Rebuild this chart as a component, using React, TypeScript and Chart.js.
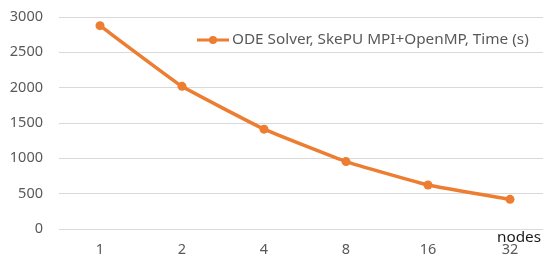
import React, { useEffect, useRef } from "react";
import { Chart, registerables } from "chart.js";

Chart.register(...registerables);

const categories = ["1", "2", "4", "8", "16", "32"];
const timeValues = [2877, 2019, 1413, 954, 623, 420];
const seriesLabel = "ODE Solver, SkePU MPI+OpenMP, Time (s)";
const xAxisTitle = "nodes";
const yMin = 0;
const yMax = 3000;
const yStep = 500;

const ORANGE = "#ED7D31";
const FONT = "'Noto Sans', sans-serif";

const overlayPlugin = {
  id: "overlay",
  afterDraw(chart: any) {
    const ctx = chart.ctx;
    const ds = chart.data.datasets[0];
    ctx.save();
    const ly = 40;
    const lx = 197;
    ctx.strokeStyle = ds.borderColor;
    ctx.lineWidth = 3;
    ctx.beginPath();
    ctx.moveTo(lx, ly);
    ctx.lineTo(lx + 32, ly);
    ctx.stroke();
    ctx.fillStyle = ds.borderColor;
    ctx.beginPath();
    ctx.arc(lx + 16, ly, 4, 0, Math.PI * 2);
    ctx.fill();
    ctx.font = `15.3px ${FONT}`;
    ctx.fillStyle = "#595959";
    ctx.textAlign = "left";
    ctx.textBaseline = "middle";
    ctx.fillText(ds.label, lx + 35, ly);
    ctx.fillStyle = "#1a1a1a";
    ctx.textAlign = "right";
    ctx.fillText(xAxisTitle, 541, 238);
    ctx.restore();
  },
};

export default function App() {
  const ref = useRef<HTMLCanvasElement | null>(null);
  useEffect(() => {
    if (!ref.current) return;
    const chart = new Chart(ref.current, {
      type: "line",
      data: {
        labels: categories,
        datasets: [
          {
            label: seriesLabel,
            data: timeValues,
            borderColor: ORANGE,
            backgroundColor: ORANGE,
            borderWidth: 3.5,
            pointRadius: 4.5,
            pointBackgroundColor: ORANGE,
            pointBorderColor: ORANGE,
            pointBorderWidth: 0,
            tension: 0.1,
          },
        ],
      },
      options: {
        responsive: false,
        animation: false,
        devicePixelRatio: 1,
        layout: { padding: { top: 17, right: 9, left: 0, bottom: 0 } },
        plugins: {
          legend: { display: false },
          tooltip: { enabled: false },
        },
        scales: {
          x: {
            offset: true,
            grid: { display: false, drawTicks: false },
            border: { display: false },
            ticks: {
              color: "#595959",
              font: { family: FONT, size: 14.5 },
              padding: 12,
              maxRotation: 0,
            },
            afterFit: (s: any) => {
              s.height = 28;
              s.paddingLeft = 0;
              s.paddingRight = 0;
            },
          },
          y: {
            min: yMin,
            max: yMax,
            grid: { color: "#D9D9D9", lineWidth: 1, drawTicks: false },
            border: { display: false },
            ticks: {
              stepSize: yStep,
              color: "#595959",
              font: { family: FONT, size: 14.5 },
              padding: 16,
              callback: (v: any) => String(v),
            },
            afterFit: (s: any) => {
              s.width = 59;
              s.paddingTop = 0;
              s.paddingBottom = 0;
            },
          },
        },
      },
      plugins: [overlayPlugin],
    });
    return () => chart.destroy();
  }, []);
  return (
    <div
      style={{
        position: "fixed",
        left: 0,
        top: 0,
        width: 543,
        height: 257,
        overflow: "hidden",
        background: "#fff",
      }}
    >
      <canvas ref={ref} width={560} height={257} style={{ display: "block" }} />
    </div>
  );
}
